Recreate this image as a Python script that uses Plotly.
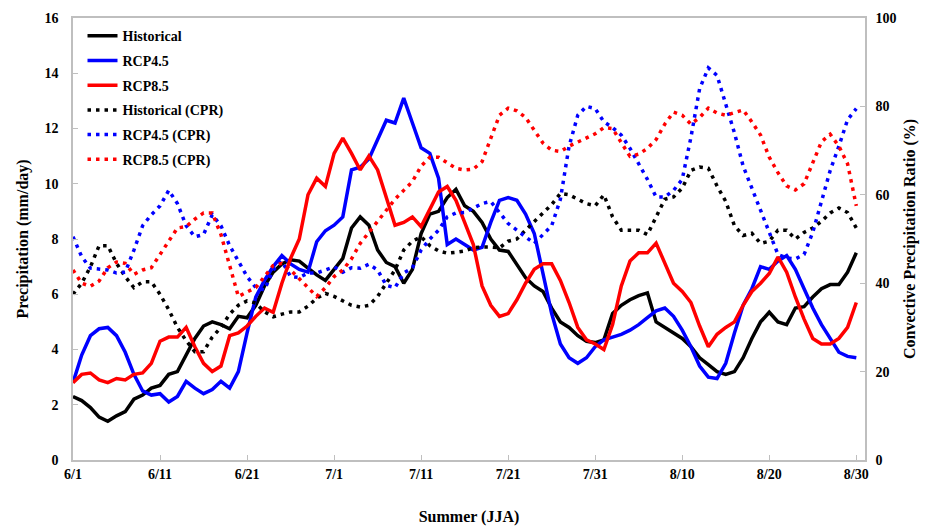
import pandas as pd
import plotly.graph_objects as go

dates = pd.date_range("2000-06-01", "2000-08-30", freq="D")

historical = [2.3, 2.15, 1.9, 1.55, 1.4, 1.6, 1.75, 2.2, 2.35, 2.6, 2.7, 3.1, 3.2, 3.8, 4.4, 4.85,
              5.0, 4.9, 4.75, 5.2, 5.15, 5.6, 6.3, 6.8, 7.1, 7.25, 7.2, 6.95, 6.7, 6.5, 6.9, 7.3,
              8.4, 8.8, 8.5, 7.6, 7.15, 7.0, 6.4, 6.9, 8.2, 8.9, 9.0, 9.5, 9.8, 9.2, 9.0, 8.6,
              8.0, 7.6, 7.55, 7.1, 6.6, 6.3, 6.1, 5.5, 5.0, 4.8, 4.5, 4.3, 4.25, 4.35, 5.3, 5.6,
              5.8, 5.95, 6.05, 5.0, 4.8, 4.6, 4.4, 4.1, 3.7, 3.45, 3.2, 3.1, 3.2, 3.7, 4.4, 5.0,
              5.35, 5.0, 4.9, 5.5, 5.55, 5.9, 6.2, 6.35, 6.35, 6.8, 7.5]
rcp45 = [2.8, 3.8, 4.5, 4.75, 4.8, 4.5, 3.9, 3.1, 2.5, 2.35, 2.4, 2.1, 2.3, 2.85, 2.6, 2.4,
         2.55, 2.85, 2.6, 3.2, 4.6, 5.9, 6.5, 7.0, 7.4, 7.1, 6.9, 6.8, 7.9, 8.3, 8.5, 8.8,
         10.5, 10.6, 10.9, 11.6, 12.3, 12.2, 13.1, 12.2, 11.3, 11.1, 10.2, 7.8, 8.0, 7.8, 7.6, 7.7,
         8.6, 9.4, 9.5, 9.4, 8.9, 8.2, 6.8, 5.3, 4.2, 3.7, 3.5, 3.7, 4.1, 4.35, 4.45, 4.55,
         4.7, 4.9, 5.15, 5.4, 5.5, 5.2, 4.7, 4.1, 3.4, 3.0, 2.95, 3.5, 4.6, 5.6, 6.2, 7.0,
         6.9, 7.2, 7.4, 6.9, 6.2, 5.5, 4.9, 4.4, 3.9, 3.75, 3.7]
rcp85 = [2.8, 3.1, 3.15, 2.9, 2.8, 2.95, 2.9, 3.1, 3.15, 3.5, 4.3, 4.45, 4.45, 4.8, 4.1, 3.5,
         3.2, 3.4, 4.5, 4.6, 4.85, 5.2, 5.5, 5.35, 6.4, 7.3, 8.0, 9.6, 10.2, 9.9, 11.1, 11.65,
         11.1, 10.5, 11.0, 10.5, 9.5, 8.5, 8.6, 8.8, 8.45, 9.1, 9.7, 9.9, 9.4, 8.6, 7.8, 6.3,
         5.6, 5.2, 5.3, 5.8, 6.4, 6.9, 7.1, 7.1, 6.5, 5.7, 4.8, 4.35, 4.2, 4.0, 4.9, 6.3,
         7.2, 7.5, 7.5, 7.85, 7.1, 6.4, 6.1, 5.7, 4.85, 4.1, 4.55, 4.8, 5.0, 5.6, 6.1, 6.4,
         6.75, 7.35, 6.8, 5.9, 5.1, 4.4, 4.2, 4.2, 4.4, 4.8, 5.7]
historical_cpr = [37.5, 40, 43.7, 48.5, 48.5, 44.5, 41.5, 39, 40.3, 40.3, 37.5, 34, 30, 27, 24.5, 24.5,
                  27.8, 30, 33, 35, 36, 35.5, 33.5, 32.4, 33, 33.5, 33.5, 34.8, 36.6, 37.7, 37, 36,
                  35, 34.6, 35, 37, 40, 43, 47.5, 49.5, 50.5, 48.5, 47.3, 46.8, 47, 47.3, 48, 48.2,
                  48.2, 48, 49.5, 50, 52, 54, 56, 57.8, 60.3, 60, 59, 58, 57.5, 60, 55, 52,
                  52, 52, 51, 55, 59, 59.5, 61.5, 65.5, 66.3, 66, 62, 58.5, 53, 50.8, 51.3, 49,
                  49.5, 52, 52, 50, 51.5, 52.5, 54, 55.9, 57, 56, 52.5]
rcp45_cpr = [50.5, 46, 43.4, 43.2, 43, 42.3, 42.5, 47.5, 53, 55.5, 57.5, 61, 58, 53, 50.5, 51,
             55.5, 53, 48.5, 45, 41.5, 39, 38.5, 43, 45, 41.5, 41.3, 42.3, 42.3, 43, 43.7, 42.5,
             43.5, 43.4, 44.3, 43, 39.5, 39, 42.3, 43.5, 47.5, 50, 52, 55, 55.9, 56, 57, 58,
             58.5, 56, 53.5, 52, 50.5, 49, 51, 53, 59, 71, 78, 80, 79.5, 76.5, 75.2, 73.5,
             70.5, 67, 63.5, 59.5, 59.5, 61, 63.5, 73, 84, 88.7, 87, 80.5, 74, 66.5, 61.5, 57,
             51.5, 46.5, 45.7, 45.5, 46.5, 51.5, 58.5, 65.5, 71, 77, 79.5]
rcp85_cpr = [43, 40, 39.3, 40.5, 43.5, 44.8, 44.5, 42, 43, 43.5, 46.5, 49.5, 52.5, 52.8, 54.5, 55.9,
             55.9, 51, 44, 37, 38, 39, 41.5, 44, 44.5, 43, 41, 39, 37, 39, 41.5, 43,
             45.5, 49, 51.5, 54, 56.5, 59, 61, 63, 66.5, 68.5, 68.5, 67.2, 66, 65.6, 65.8, 67.5,
             72.5, 78, 79.6, 79, 77.5, 74.5, 71.7, 70.1, 69.8, 71, 72, 73, 73.8, 75.2, 75, 71.8,
             68.7, 69.2, 70.5, 72.5, 76, 78.7, 78, 76, 77.5, 79.6, 78.5, 78, 78.7, 79.2, 76.5, 73.5,
             68.5, 65, 62, 61.1, 62.5, 67.5, 72, 73.7, 71, 67, 57.5]

names = ["Historical", "RCP4.5", "RCP8.5", "Historical (CPR)", "RCP4.5 (CPR)", "RCP8.5 (CPR)"]
colors = ["#000000", "#0000ff", "#ff0000"]

fig = go.Figure()
cpr_series = [historical_cpr, rcp45_cpr, rcp85_cpr]
pr_series = [historical, rcp45, rcp85]
for i, s in enumerate(cpr_series):
    fig.add_trace(go.Scatter(x=dates, y=s, name=names[3 + i], yaxis="y2", mode="lines",
                             line=dict(color=colors[i], width=3.5, dash="3.5px,5px"),
                             legendgroup=names[3 + i], legendrank=4 + i))
for i, s in enumerate(pr_series):
    fig.add_trace(go.Scatter(x=dates, y=s, name=names[i], mode="lines",
                             line=dict(color=colors[i], width=3.5),
                             legendgroup=names[i], legendrank=1 + i))

font_family = "Liberation Serif"
axis_color = "#bfbfbf"
fig.update_layout(
    width=921, height=522,
    margin=dict(l=65, r=64, t=10, b=70, autoexpand=False),
    plot_bgcolor="white", paper_bgcolor="white",
    font=dict(family=font_family, size=14, color="black", weight="bold"),
    showlegend=True,
    legend=dict(x=0.012, y=0.995, xanchor="left", yanchor="top", bgcolor="rgba(0,0,0,0)",
                font=dict(family=font_family, size=14, weight="bold"),
                tracegroupgap=3.5, itemwidth=30),
    xaxis=dict(type="date", range=["2000-06-01", "2000-08-31"], automargin=False,
               tick0="2000-06-01", dtick=10 * 86400000, tickformat="%-m/%-d",
               showgrid=False, showline=True, linecolor=axis_color, linewidth=1.5, mirror=True,
               ticks="inside", ticklen=5, tickcolor=axis_color,
               tickfont=dict(family=font_family, size=14, weight="bold"),
               title=dict(text="Summer (JJA)", font=dict(family=font_family, size=16, weight="bold"),
                          standoff=30)),
    yaxis=dict(range=[0, 16], dtick=2, showgrid=False, zeroline=False, showline=True, automargin=False,
               linecolor=axis_color, linewidth=1.5, ticks="inside", ticklen=5, tickcolor=axis_color,
               tickfont=dict(family=font_family, size=14, weight="bold"),
               ticklabelstandoff=10,
               title=dict(text="Precipitation (mm/day)", font=dict(family=font_family, size=16, weight="bold"),
                          standoff=12)),
    yaxis2=dict(range=[0, 100], dtick=20, overlaying="y", side="right", showgrid=False, zeroline=False,
                showline=True, linecolor=axis_color, linewidth=1.5, ticks="inside", ticklen=5,
                automargin=False,
                tickcolor=axis_color, tickfont=dict(family=font_family, size=14, weight="bold"),
                ticklabelstandoff=6,
                title=dict(text="Convective Precipitation Ratio (%)",
                           font=dict(family=font_family, size=16, weight="bold"), standoff=8)),
)

fig.write_html("out.html")
